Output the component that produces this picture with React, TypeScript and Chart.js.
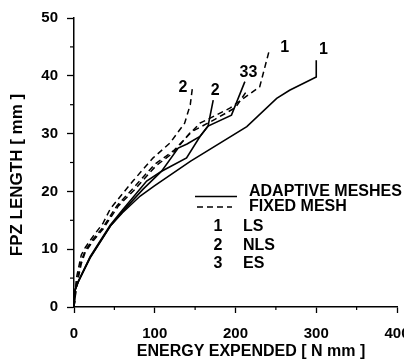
import React, { useEffect, useRef } from "react";
import { Chart, registerables } from "chart.js";

Chart.register(...registerables);

// ---- data ----
const xMajor = [0, 100, 200, 300, 400];
const yMajor = [0, 10, 20, 30, 40, 50];
const xMinor = [50, 150, 250, 350];
const yMinor = [5, 15, 25, 35, 45];

// Adaptive meshes (solid)
const lsAdaptiveX = [0, 1.5, 5, 20, 45, 60, 82, 100, 144, 214, 251, 267, 300, 300];
const lsAdaptiveY = [0, 3, 4.3, 8.5, 14, 16.3, 19.2, 21, 25.2, 31.2, 36.1, 37.5, 39.8, 42.7];
const nlsAdaptiveX = [0, 1.5, 5, 20, 45, 60, 90, 108.5, 129, 140, 156, 166, 172.4];
const nlsAdaptiveY = [0, 3, 4.3, 8.7, 14.2, 16.8, 21.8, 23.5, 27.5, 28.2, 29.5, 31.3, 35.8];
const esAdaptiveX = [0, 1.5, 5, 20, 45, 60, 85, 108.5, 139.4, 156, 166, 195, 211.6];
const esAdaptiveY = [0, 3, 4.3, 8.6, 14, 16.5, 20.3, 23.5, 25.8, 29.5, 31.3, 33.2, 39];

// Fixed mesh (dashed)
const lsFixedX = [0, 3, 9, 14, 24, 36, 53, 73, 100, 123, 156, 193, 230, 242];
const lsFixedY = [0, 4, 8, 9.8, 11.8, 13.8, 17.5, 20.5, 24.7, 27, 31.8, 34.4, 38.1, 44.5];
const nlsFixedX = [0, 3, 9, 14, 24, 36, 45, 73, 98, 119, 137, 144, 147];
const nlsFixedY = [0, 5, 9, 10.3, 12.3, 14.5, 17, 21.8, 25.8, 28.4, 31.8, 35, 38.3];
const esFixedX = [0, 3, 9, 14, 24, 36, 55, 75, 102, 123, 144, 175, 200, 213];
const esFixedY = [0, 3.5, 7.5, 9.5, 11.5, 13.5, 17.5, 20.3, 24.5, 26.7, 30.2, 32.5, 34.5, 37.2];

// Curve number labels (data coordinates)
const curveLabelText = ["1", "1", "33", "2", "2"];
const curveLabelX = [309, 261, 216, 175, 135];
const curveLabelY = [44.6, 44.8, 40.6, 37.5, 38];

// Legend
const legendLineText = ["ADAPTIVE MESHES", "FIXED MESH"];
const legendNums = ["1", "2", "3"];
const legendNames = ["LS", "NLS", "ES"];

const xTitle = "ENERGY EXPENDED [ N mm ]";
const yTitle = "FPZ LENGTH [ mm ]";

const FONT = "'Liberation Sans', Arial, sans-serif";

function pts(xs: number[], ys: number[]) {
  return xs.map((x, i) => ({ x, y: ys[i] }));
}

const decorPlugin = {
  id: "decor",
  afterDraw(chart: any) {
    const ctx = chart.ctx as CanvasRenderingContext2D;
    const xs = chart.scales.x;
    const ys = chart.scales.y;
    const area = chart.chartArea;
    ctx.save();
    ctx.strokeStyle = "#000";
    ctx.fillStyle = "#000";
    // minor ticks
    ctx.lineWidth = 1.2;
    xMinor.forEach((v) => {
      const px = xs.getPixelForValue(v);
      ctx.beginPath();
      ctx.moveTo(px, area.bottom);
      ctx.lineTo(px, area.bottom + 3);
      ctx.stroke();
    });
    yMinor.forEach((v) => {
      const py = ys.getPixelForValue(v);
      ctx.beginPath();
      ctx.moveTo(area.left, py);
      ctx.lineTo(area.left - 4, py);
      ctx.stroke();
    });

    // curve labels
    ctx.font = `bold 16px ${FONT}`;
    ctx.textAlign = "center";
    ctx.textBaseline = "middle";
    curveLabelText.forEach((t, i) => {
      ctx.fillText(t, xs.getPixelForValue(curveLabelX[i]), ys.getPixelForValue(curveLabelY[i]));
    });

    // legend
    const lx0 = area.left + 121;
    const lx1 = area.left + 163;
    const tx = area.left + 175;
    ctx.lineWidth = 1.6;
    ctx.beginPath();
    ctx.moveTo(lx0, area.top + 178.5);
    ctx.lineTo(lx1, area.top + 178.5);
    ctx.stroke();
    ctx.setLineDash([6, 4]);
    ctx.beginPath();
    ctx.moveTo(lx0 + 2, area.top + 189);
    ctx.lineTo(lx0 + 37, area.top + 189);
    ctx.stroke();
    ctx.setLineDash([]);
    ctx.font = `bold 16px ${FONT}`;
    ctx.textAlign = "left";
    ctx.fillText(legendLineText[0], tx, area.top + 174);
    ctx.fillText(legendLineText[1], tx, area.top + 189);
    legendNums.forEach((n, i) => {
      const y = area.top + 209 + i * 18.5;
      ctx.textAlign = "center";
      ctx.fillText(n, area.left + 144, y);
      ctx.textAlign = "left";
      ctx.fillText(legendNames[i], area.left + 169, y);
    });

    // axis titles
    ctx.font = `bold 16px ${FONT}`;
    ctx.textAlign = "center";
    ctx.fillText(xTitle, 251, 352);
    ctx.save();
    ctx.translate(17.5, 175);
    ctx.rotate(-Math.PI / 2);
    ctx.font = `bold 17px ${FONT}`;
    ctx.fillText(yTitle, 0, 0);
    ctx.restore();
    ctx.restore();
  },
};

export default function App() {
  const ref = useRef<HTMLCanvasElement | null>(null);
  useEffect(() => {
    if (!ref.current) return;
    const solid = (xs: number[], ys: number[]) => ({
      data: pts(xs, ys),
      showLine: true,
      borderColor: "#000",
      borderWidth: 1.6,
      pointRadius: 0,
      fill: false,
      tension: 0,
    });
    const dashed = (xs: number[], ys: number[]) => ({
      ...solid(xs, ys),
      borderWidth: 1.5,
      borderDash: [6, 4],
    });
    const chart = new Chart(ref.current, {
      type: "scatter",
      data: {
        datasets: [
          solid(lsAdaptiveX, lsAdaptiveY),
          solid(nlsAdaptiveX, nlsAdaptiveY),
          solid(esAdaptiveX, esAdaptiveY),
          dashed(lsFixedX, lsFixedY),
          dashed(nlsFixedX, nlsFixedY),
          dashed(esFixedX, esFixedY),
        ] as any,
      },
      options: {
        animation: false,
        responsive: false,
        devicePixelRatio: 1,
        layout: { padding: { top: 15, right: 33, left: 0, bottom: 0 } },
        plugins: { legend: { display: false }, tooltip: { enabled: false } },
        scales: {
          x: {
            type: "linear",
            min: 0,
            max: 400,
            afterBuildTicks: (s: any) => {
              s.ticks = xMajor.map((v) => ({ value: v }));
            },
            afterFit: (s: any) => {
              s.height = 55;
            },
            grid: { drawOnChartArea: false, drawTicks: true, tickLength: 6, tickColor: "#000", tickWidth: 1.3 },
            border: { display: true, color: "#000", width: 1.5 },
            ticks: { color: "#000", padding: 12, maxRotation: 0, font: { size: 15, family: FONT, weight: "bold" } },
          },
          y: {
            type: "linear",
            min: 0,
            max: 50,
            afterBuildTicks: (s: any) => {
              s.ticks = yMajor.map((v) => ({ value: v }));
            },
            afterFit: (s: any) => {
              s.width = 74;
            },
            grid: { drawOnChartArea: false, drawTicks: true, tickLength: 7, tickColor: "#000", tickWidth: 1.3 },
            border: { display: true, color: "#000", width: 1.5 },
            ticks: { color: "#000", padding: 9, font: { size: 15, family: FONT, weight: "bold" } },
          },
        },
      } as any,
      plugins: [decorPlugin],
    });
    return () => chart.destroy();
  }, []);
  return (
    <div style={{ position: "absolute", left: 0, top: 0, width: 404, height: 362, overflow: "hidden", background: "#fff" }}>
      <canvas ref={ref} width={430} height={362} style={{ width: 430, height: 362, display: "block" }} />
    </div>
  );
}
